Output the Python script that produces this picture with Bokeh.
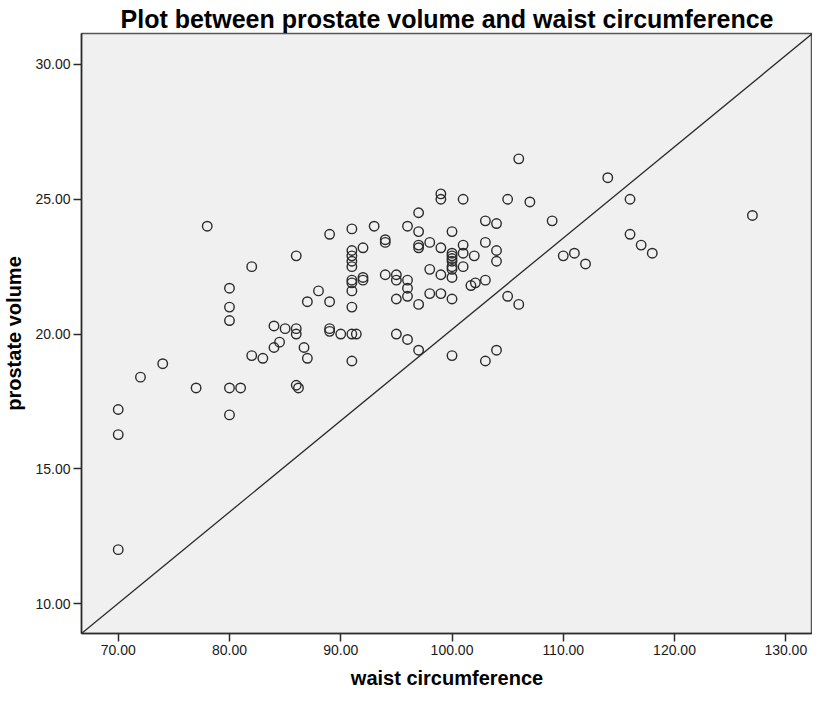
from bokeh.plotting import figure
from bokeh.models import FixedTicker, PrintfTickFormatter, Range1d, Title
from bokeh.embed import file_html
from bokeh.resources import INLINE

# waist circumference (x) and prostate volume (y)
waist = [
    70, 70, 70, 72, 74, 77, 78,
    80, 80, 80, 80, 80, 81, 82, 82, 83,
    84, 84, 84.5, 85, 86, 86, 86, 86, 86.2, 86.7, 87, 87, 88,
    89, 89, 89, 89, 90,
    91, 91, 91, 91, 91, 91, 91, 91, 91, 91, 91, 91.4,
    92, 92, 92, 93, 94, 94, 94,
    95, 95, 95, 95, 96, 96, 96, 96, 96,
    97, 97, 97, 97, 97, 97, 98, 98, 98,
    99, 99, 99, 99, 99,
    100, 100, 100, 100, 100, 100, 100, 100, 100, 100,
    101, 101, 101, 101, 101.7, 102.1, 102,
    103, 103, 103, 103, 104, 104, 104, 104,
    105, 105, 106, 106, 107, 109, 110, 111, 112,
    114, 116, 116, 117, 118, 127,
]
volume = [
    12.0, 16.27, 17.2, 18.4, 18.9, 18.0, 24.0,
    18.0, 17.0, 20.5, 21.0, 21.7, 18.0, 22.5, 19.2, 19.1,
    20.3, 19.5, 19.7, 20.2, 22.9, 20.2, 20.0, 18.1, 18.0, 19.5, 21.2, 19.1, 21.6,
    23.7, 21.2, 20.2, 20.1, 20.0,
    23.9, 23.1, 22.9, 22.7, 22.5, 22.0, 21.9, 21.6, 21.0, 20.0, 19.0, 20.0,
    23.2, 22.1, 22.0, 24.0, 23.5, 23.4, 22.2,
    22.2, 22.0, 21.3, 20.0, 24.0, 22.0, 21.7, 21.4, 19.8,
    24.5, 23.8, 23.3, 23.2, 21.1, 19.4, 23.4, 22.4, 21.5,
    25.2, 25.0, 23.2, 22.2, 21.5,
    23.8, 23.0, 22.9, 22.8, 22.7, 22.5, 22.4, 22.1, 21.3, 19.2,
    25.0, 23.3, 23.0, 22.5, 21.8, 21.9, 22.9,
    24.2, 23.4, 22.0, 19.0, 24.1, 23.1, 22.7, 19.4,
    25.0, 21.4, 26.5, 21.1, 24.9, 24.2, 22.9, 23.0, 22.6,
    25.8, 25.0, 23.7, 23.3, 23.0, 24.4,
]

x_ticks = [70, 80, 90, 100, 110, 120, 130]
y_ticks = [10, 15, 20, 25, 30]
x_lo, x_hi = 66.7, 132.4
y_lo, y_hi = 8.89, 31.15
ref_x = [x_lo, x_hi]
ref_y = [y_lo, y_hi]

FONT = "Liberation Sans"

p = figure(width=812, height=692, output_backend="svg", toolbar_location=None,
           x_range=Range1d(x_lo, x_hi), y_range=Range1d(y_lo, y_hi),
           min_border_left=78, min_border_right=0, min_border_top=33,
           min_border_bottom=59)

p.add_layout(Title(text="Plot between prostate volume and waist circumference",
                   text_font=FONT, text_font_size="25px", text_font_style="bold",
                   text_color="#000000", align="center", offset=0, standoff=2), "above")

p.background_fill_color = "#F0F0F0"
p.border_fill_color = "#FFFFFF"
p.outline_line_color = "#555555"
p.outline_line_width = 1.5
p.grid.visible = False

p.line(ref_x, ref_y, line_color="#2b2b2b", line_width=1.3)
p.scatter(waist, volume, marker="circle", size=9.5, fill_color=None,
          line_color="#2b2b2b", line_width=1.4)

for ax in (p.xaxis[0], p.yaxis[0]):
    ax.major_label_text_font = FONT
    ax.major_label_text_font_size = "14px"
    ax.major_label_text_color = "#1a1a1a"
    ax.axis_label_text_font = FONT
    ax.axis_label_text_font_style = "bold"
    ax.axis_label_text_color = "#000000"
    ax.axis_label_text_font_size = "20px"
    ax.axis_line_color = "#2b2b2b"
    ax.axis_line_width = 1.5
    ax.major_tick_line_color = "#2b2b2b"
    ax.major_tick_line_width = 1.5
    ax.major_tick_in = 0
    ax.major_tick_out = 8
    ax.minor_tick_line_color = None
    ax.major_label_standoff = 3
    ax.formatter = PrintfTickFormatter(format="%.2f")

p.xaxis.ticker = FixedTicker(ticks=x_ticks)
p.yaxis.ticker = FixedTicker(ticks=y_ticks)
p.xaxis.axis_label = "waist circumference"
p.yaxis.axis_label = "prostate volume"
p.xaxis.axis_label_standoff = 9
p.yaxis.axis_label_standoff = 7

open("out.html", "w").write(file_html(p, INLINE))
